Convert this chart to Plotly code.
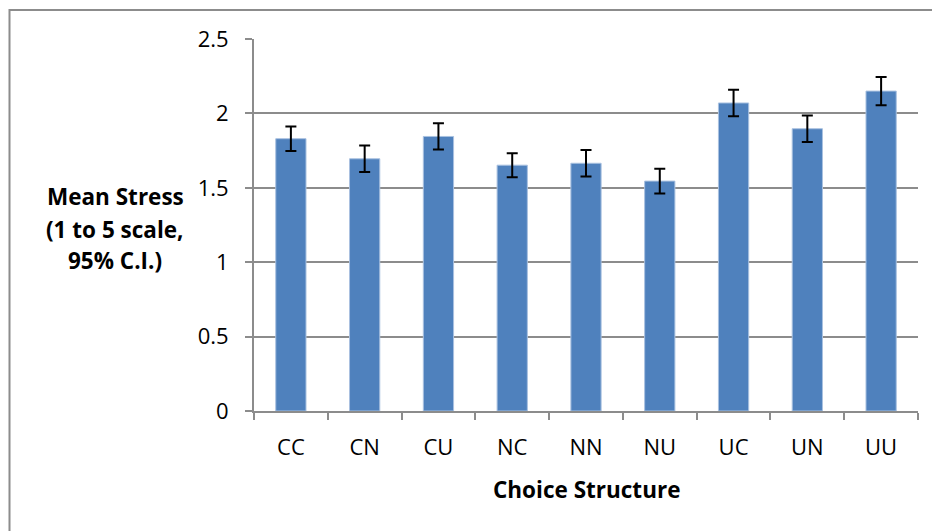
import plotly.graph_objects as go

categories = ["CC", "CN", "CU", "NC", "NN", "NU", "UC", "UN", "UU"]
mean_stress = [1.83, 1.695, 1.845, 1.652, 1.665, 1.545, 2.07, 1.897, 2.15]
ci_95 = [0.082, 0.089, 0.088, 0.081, 0.089, 0.083, 0.089, 0.089, 0.095]
y_ticks = [0, 0.5, 1, 1.5, 2, 2.5]
y_tick_text = ["0", "0.5", "1", "1.5", "2", "2.5"]

W, H = 932, 531
L, R, T, B = 254, 14, 38.5, 120
pw, ph = W - L - R, H - T - B

def px(x):
    return (x - L) / pw

def py(y):
    return (H - B - y) / ph

font = "Open Sans"
grid = "#8c8c8c"

fig = go.Figure()
fig.add_trace(go.Bar(
    x=categories, y=mean_stress,
    marker=dict(color="#4f81bd", line=dict(color="#a9c1e0", width=1)),
    error_y=dict(type="data", array=ci_95, visible=True, color="black",
                 thickness=2, width=5.5),
    width=0.41,
))

fig.update_layout(
    width=W, height=H,
    margin=dict(l=L, r=R, t=T, b=B, pad=0),
    paper_bgcolor="white", plot_bgcolor="white",
    showlegend=False,
    font=dict(family=font, size=22, color="black"),
    xaxis=dict(
        type="category", showgrid=False, showline=True, linecolor=grid, linewidth=2,
        ticks="outside", tickson="boundaries", ticklen=7, tickcolor=grid, tickwidth=1.5,
        tickfont=dict(family=font, size=22, color="black"),
        ticklabelstandoff=16,
    ),
    yaxis=dict(
        range=[0, 2.5], tickvals=y_ticks, ticktext=y_tick_text,
        showgrid=True, gridcolor=grid, gridwidth=2,
        showline=True, linecolor=grid, linewidth=2, zeroline=False,
        ticks="outside", ticklen=7, tickcolor=grid, tickwidth=1.5,
        tickfont=dict(family=font, size=22, color="black"),
        ticklabelstandoff=12,
    ),
    shapes=[dict(type="rect", xref="paper", yref="paper",
                 x0=px(9.5), x1=px(960), y0=py(560), y1=py(9.5),
                 line=dict(color="#8c8c8c", width=2), layer="below")],
)

ylab_lines = ["Mean Stress", "(1 to 5 scale,", "95% C.I.)"]
ylab_y = [196.5, 229.5, 260.5]
for txt, yy in zip(ylab_lines, ylab_y):
    fig.add_annotation(text="<b>" + txt + "</b>", xref="paper", yref="paper",
                       x=px(115), y=py(yy), xanchor="center", yanchor="middle",
                       showarrow=False, font=dict(family=font, size=22.5, color="black"))

fig.add_annotation(text="<b>Choice Structure</b>", xref="paper", yref="paper",
                   x=px(586), y=py(490), xanchor="center", yanchor="middle",
                   showarrow=False, font=dict(family=font, size=22.5, color="black"))

fig.write_html("out.html", config={"displayModeBar": False},
               post_script="document.body.style.margin='0';document.body.style.overflow='hidden';")
